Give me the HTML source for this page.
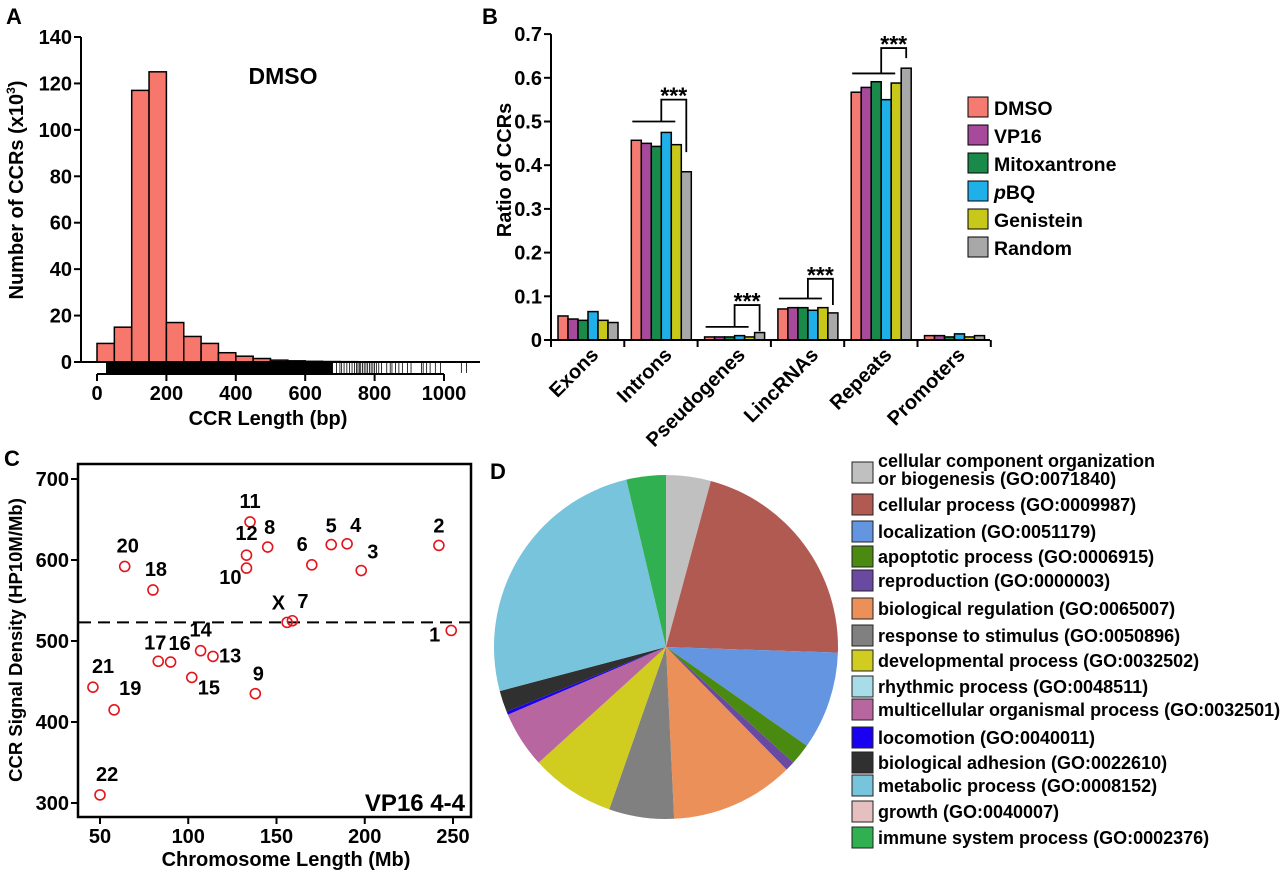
<!DOCTYPE html>
<html><head><meta charset="utf-8"><style>
html,body{margin:0;padding:0;background:#fff;}
svg{display:block;font-family:"Liberation Sans",Arial,sans-serif;font-weight:bold;}
</style></head><body>
<svg id="fig" width="1280" height="873" viewBox="0 0 1280 873" xmlns="http://www.w3.org/2000/svg">
<g id="pa"></g>
<g id="pb"></g>
<g id="pc"></g>
<g id="pd"></g>
</svg>
<script>
// ---------- Panel A data ----------
const histBinWidth = 50;
const histCounts = [8, 15, 117, 125, 17, 11, 8, 4, 2.5, 1.5, 0.8, 0.5, 0.3, 0.2, 0.15];
const histYTicks = [0, 20, 40, 60, 80, 100, 120, 140];
const histXTicks = [0, 200, 400, 600, 800, 1000];
const rugDenseRange = [26, 680];
const rugSparse = [690,700,705,712,720,728,735,742,748,752,756,760,765,770,775,780,785,790,795,800,805,812,820,835,845,850,860,870,880,895,905,935,940,950,960,975,990,1050,1065];
// ---------- Panel B data ----------
const catNames = ["Exons","Introns","Pseudogenes","LincRNAs","Repeats","Promoters"];
const seriesNames = ["DMSO","VP16","Mitoxantrone","pBQ","Genistein","Random"];
const sDMSO = [0.055,0.457,0.007,0.071,0.567,0.010];
const sVP16 = [0.048,0.450,0.007,0.074,0.578,0.010];
const sMito = [0.045,0.443,0.007,0.074,0.591,0.007];
const sPBQ  = [0.065,0.475,0.010,0.068,0.550,0.014];
const sGen  = [0.045,0.447,0.007,0.074,0.588,0.007];
const sRand = [0.040,0.385,0.017,0.062,0.622,0.010];
const barYTicks = [0,0.1,0.2,0.3,0.4,0.5,0.6,0.7];
const bracketCats = [1,2,3,4];
const bracketLow = [0.50,0.03,0.095,0.61];
const bracketTop = [0.55,0.08,0.14,0.668];
const bracketRight = [0.43,0.02,0.08,0.645];
// ---------- Panel C data ----------
const chromNames = ["1","2","3","4","5","6","7","X","8","9","10","11","12","13","14","15","16","17","18","19","20","21","22"];
const chromLen = [249,242,198,190,181,170,159,156,145,138,133,135,133,114,107,102,90,83,80,58,64,46,50];
const chromDensity = [513,618,587,620,619,594,525,523,616,435,590,647,606,481,488,455,474,475,563,415,592,443,310];
const meanDensity = 523;
const scXTicks = [50,100,150,200,250];
const scYTicks = [300,400,500,600,700];
// ---------- Panel D data ----------
const goNames = ["cellular component organization|or biogenesis (GO:0071840)","cellular process (GO:0009987)","localization (GO:0051179)","apoptotic process (GO:0006915)","reproduction (GO:0000003)","biological regulation (GO:0065007)","response to stimulus (GO:0050896)","developmental process (GO:0032502)","rhythmic process (GO:0048511)","multicellular organismal process (GO:0032501)","locomotion (GO:0040011)","biological adhesion (GO:0022610)","metabolic process (GO:0008152)","growth (GO:0040007)","immune system process (GO:0002376)"];
const goPercent = [4.2,21.3,9.2,2.0,0.9,11.6,6.1,7.9,0.0,5.3,0.3,2.0,25.4,0.0,3.7];

const NS="http://www.w3.org/2000/svg";
function mk(parent,tag,attrs,text){const e=document.createElementNS(NS,tag);for(const k in attrs)e.setAttribute(k,attrs[k]);if(text!==undefined)e.textContent=text;parent.appendChild(e);return e;}

// ================= Panel A =================
(function(){
const g=document.getElementById('pa');
const xA=v=>97+v*0.347, yA=v=>362-v*(325/140);
let t=mk(g,'text',{x:6,y:24,'font-size':22});t.textContent='A';


mk(g,'line',{x1:81,y1:yA(140),x2:81,y2:362,stroke:'#000','stroke-width':2});
histYTicks.forEach(v=>{
  mk(g,'line',{x1:74,x2:81,y1:yA(v),y2:yA(v),stroke:'#000','stroke-width':2});
  const l=mk(g,'text',{x:72,y:yA(v)+7,'font-size':20,'text-anchor':'end'},v);
  
  
});
histCounts.forEach((c,i)=>{
  const r=mk(g,'rect',{x:xA(i*histBinWidth),y:yA(c),width:xA(histBinWidth)-xA(0),height:362-yA(c),fill:'#f7776d',stroke:'#000','stroke-width':1.5});
  
  
});
mk(g,'line',{x1:81,x2:480,y1:362,y2:362,stroke:'#000','stroke-width':2});
const rd=mk(g,'rect',{x:xA(rugDenseRange[0]),y:363,width:xA(rugDenseRange[1])-xA(rugDenseRange[0]),height:10,fill:'#000'});


rugSparse.forEach(v=>{
  const l=mk(g,'line',{x1:xA(v),x2:xA(v),y1:363,y2:373,stroke:'#000','stroke-width':0.8});
  
  
});
mk(g,'line',{x1:xA(0),x2:xA(1000),y1:374,y2:374,stroke:'#000','stroke-width':2});
histXTicks.forEach(v=>{
  mk(g,'line',{x1:xA(v),x2:xA(v),y1:374,y2:381,stroke:'#000','stroke-width':2});
  const l=mk(g,'text',{x:xA(v),y:400,'font-size':20,'text-anchor':'middle'},v);
  
  
});
t=mk(g,'text',{x:268,y:425,'font-size':20,'text-anchor':'middle'},'CCR Length (bp)');


t=mk(g,'text',{x:0,y:0,'font-size':20,'text-anchor':'middle',transform:'translate(23,190) rotate(-90)'});
t.innerHTML='Number of CCRs (x10<tspan font-size="12" dy="-8">3</tspan><tspan dy="8">)</tspan>';


t=mk(g,'text',{x:283,y:84,'font-size':23,'text-anchor':'middle'},'DMSO');


})();

// ================= Panel B =================
(function(){
const g=document.getElementById('pb');
const series=[sDMSO,sVP16,sMito,sPBQ,sGen,sRand];
const colors=['#f47a72','#a84a9c','#1a8a4a','#1fb0ea','#c8c81a','#a8a8a8'];
const y0=340, sc=437, gw=73.3, x0=551;
const yB=v=>y0-v*sc, gx=k=>x0+gw*k, bx=(k,i)=>gx(k)+7+i*10;
let t=mk(g,'text',{x:482,y:24,'font-size':22},'B');


mk(g,'line',{x1:x0,x2:x0,y1:yB(0.7),y2:y0+7,stroke:'#000','stroke-width':2});
barYTicks.forEach(v=>{
  mk(g,'line',{x1:x0-7,x2:x0,y1:yB(v),y2:yB(v),stroke:'#000','stroke-width':2});
  const l=mk(g,'text',{x:x0-9,y:yB(v)+7,'font-size':20,'text-anchor':'end'},v===0?'0':v.toFixed(1));
  
  
});
series.forEach((s,i)=>s.forEach((v,k)=>{
  const r=mk(g,'rect',{x:bx(k,i),y:yB(v),width:10,height:y0-yB(v),fill:colors[i],stroke:'#000','stroke-width':1.5});
  
  
}));
mk(g,'line',{x1:x0,x2:990,y1:y0,y2:y0,stroke:'#000','stroke-width':2});
catNames.forEach((c,k)=>{
  mk(g,'line',{x1:gx(k+1),x2:gx(k+1),y1:y0,y2:y0+7,stroke:'#000','stroke-width':2});
  const cx=gx(k)+gw/2+12;
  const l=mk(g,'text',{x:0,y:0,'font-size':20,'text-anchor':'end',transform:`translate(${cx},356) rotate(-45)`},c);
  
  
});
bracketCats.forEach((k,j)=>{
  const xl=bx(k,0)+1, xr=bx(k,4)+4, xm=bx(k,2)+10, xe=bx(k,5)+5;
  const p=mk(g,'path',{d:`M${xl},${yB(bracketLow[j])}H${xr}M${xm},${yB(bracketLow[j])}V${yB(bracketTop[j])}H${xe}V${yB(bracketRight[j])}`,fill:'none',stroke:'#000','stroke-width':1.8});
  
  
  const s=mk(g,'text',{x:(xm+xe)/2,y:yB(bracketTop[j])+4,'font-size':23,'text-anchor':'middle'},'***');
  
  
});
t=mk(g,'text',{x:0,y:0,'font-size':20,'text-anchor':'middle',transform:'translate(511,170) rotate(-90)'},'Ratio of CCRs');


seriesNames.forEach((n,i)=>{
  const yy=97+i*28;
  const r=mk(g,'rect',{x:968,y:yy,width:20,height:20,fill:colors[i],stroke:'#000','stroke-width':1});
  
  
  const l=mk(g,'text',{x:994,y:yy+18,'font-size':19.5});
  if(n==='pBQ'){l.innerHTML='<tspan font-style="italic">p</tspan>BQ';}else l.textContent=n;
  
  
});
})();

// ================= Panel C =================
(function(){
const g=document.getElementById('pc');
const xC=v=>100+(v-50)*(353/200), yC=v=>479+(700-v)*(324/400);
let t=mk(g,'text',{x:4,y:466,'font-size':22},'C');


mk(g,'rect',{x:78,y:464,width:393,height:353,fill:'none',stroke:'#000','stroke-width':2.5});
scYTicks.forEach(v=>{
  mk(g,'line',{x1:71,x2:78,y1:yC(v),y2:yC(v),stroke:'#000','stroke-width':2});
  const l=mk(g,'text',{x:69,y:yC(v)+7,'font-size':20,'text-anchor':'end'},v);
  
  
});
scXTicks.forEach(v=>{
  mk(g,'line',{x1:xC(v),x2:xC(v),y1:817,y2:824,stroke:'#000','stroke-width':2});
  const l=mk(g,'text',{x:xC(v),y:843,'font-size':20,'text-anchor':'middle'},v);
  
  
});
const dl=mk(g,'line',{x1:79,x2:470,y1:yC(meanDensity),y2:yC(meanDensity),stroke:'#000','stroke-width':2,'stroke-dasharray':'12,7'});


// label offsets (layout only)
const off={"1":[-11,11,'end'],"2":[0,-13,'middle'],"3":[6,-12,'start'],"4":[3,-12,'start'],"5":[0,-12,'middle'],"6":[-4,-14,'end'],"7":[5,-13,'start'],"X":[-2,-13,'end'],"8":[2,-13,'middle'],"9":[3,-13,'middle'],"10":[-5,16,'end'],"11":[0,-14,'middle'],"12":[0,-15,'middle'],"13":[6,6,'start'],"14":[0,-14,'middle'],"15":[6,17,'start'],"16":[9,-12,'middle'],"17":[-3,-12,'middle'],"18":[3,-14,'middle'],"19":[5,-15,'start'],"20":[3,-14,'middle'],"21":[-1,-14,'start'],"22":[-4,-14,'start']};
chromNames.forEach((n,i)=>{
  const cx=xC(chromLen[i]), cy=yC(chromDensity[i]);
  const c=mk(g,'circle',{cx:cx,cy:cy,r:5,fill:'none',stroke:'#e3141c','stroke-width':1.6});
  
  
  const o=off[n]||[0,-12,'middle'];
  const l=mk(g,'text',{x:cx+o[0],y:cy+o[1],'font-size':20,'text-anchor':o[2]},n);
  
  
});
t=mk(g,'text',{x:465,y:811,'font-size':24,'text-anchor':'end'},'VP16 4-4');


t=mk(g,'text',{x:286,y:866,'font-size':20,'text-anchor':'middle'},'Chromosome Length (Mb)');


t=mk(g,'text',{x:0,y:0,'font-size':18.5,'text-anchor':'middle',transform:'translate(22,640) rotate(-90)'},'CCR Signal Density (HP10M/Mb)');


})();

// ================= Panel D =================
(function(){
const g=document.getElementById('pd');
const colors=['#c0c0c0','#b05a52','#6495e0','#4a8a10','#6a4aa0','#ec905a','#808080','#d0cc20','#a8dce8','#b866a0','#1a00f0','#303030','#78c4dc','#e6c0c0','#30b050'];
const cx=666, cy=647, R=172;
let t=mk(g,'text',{x:490,y:479,'font-size':22},'D');


const tot=goPercent.reduce((a,b)=>a+b,0);
let a0=0;
goPercent.forEach((p,i)=>{
  const a1=a0+p/tot*2*Math.PI;
  if(p>0){
    const x0=cx+R*Math.sin(a0), y0=cy-R*Math.cos(a0), x1=cx+R*Math.sin(a1), y1=cy-R*Math.cos(a1);
    const s=mk(g,'path',{d:`M${cx},${cy}L${x0},${y0}A${R},${R} 0 ${a1-a0>Math.PI?1:0} 1 ${x1},${y1}Z`,fill:colors[i]});
    
    
  }
  a0=a1;
});
const rows=[472,504,531,556,580,608,635,660,686,709,737,762,785,811,837];
goNames.forEach((n,i)=>{
  const yy=rows[i];
  const r=mk(g,'rect',{x:852,y:yy-10,width:21,height:21,fill:colors[i],stroke:'#222','stroke-width':1});
  
  
  const parts=n.split('|');
  const l=mk(g,'text',{x:878,y:parts.length>1?yy-5:yy+7,'font-size':18});
  if(parts.length>1){l.innerHTML=`<tspan x="878">${parts[0]}</tspan><tspan x="878" dy="18">${parts[1]}</tspan>`;}else l.textContent=n;
  
  
});
})();
</script>
</body></html>
